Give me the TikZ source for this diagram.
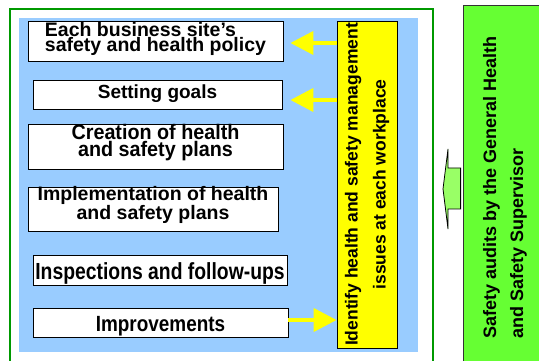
\documentclass[tikz,border=0pt]{standalone}
\usepackage{fontspec}
\setmainfont{Liberation Sans}
\newfontfamily\fontA{Liberation Sans}[FakeStretch=0.83]
\newfontfamily\fontB{Liberation Sans}[FakeStretch=0.86]
\newfontfamily\fontC{Liberation Sans}[FakeStretch=0.94]
\usetikzlibrary{arrows.meta,calc}
\definecolor{frameg}{RGB}{0,153,0}
\definecolor{skyb}{RGB}{153,204,255}
\definecolor{yelw}{RGB}{255,255,0}
\definecolor{limeg}{RGB}{102,255,51}
\definecolor{lgreen}{RGB}{153,255,102}
\tikzset{
  stepbox/.style={draw=black, line width=0.8pt, fill=white, inner sep=0pt, align=center},
  yarrow/.style={draw=yelw, line width=4pt, -{Triangle[length=23pt,width=23pt]}},
}
\begin{document}
\begin{tikzpicture}[x=1pt,y=1pt]
\useasboundingbox (0,0) rectangle (539,361);
\clip (0,0) rectangle (539,361);
\fill[white] (0,0) rectangle (539,361);
% outer frame
\draw[frameg, line width=2.5pt] (10,-10) -- (10,352) -- (433,352) -- (433,-10);
% blue area
\fill[skyb] (19,9) rectangle (418,343);
% steps
\node[stepbox, minimum width=255, minimum height=40, align=left, text height=25pt, text depth=3.6pt,
  font=\bfseries\fontsize{19.5}{15}\selectfont] (b1) at (155.5,320) {Each business site’s\\safety and health policy};
\node[stepbox, minimum width=249, minimum height=29, text height=7.6pt, text depth=0pt,
  font=\bfseries\fontsize{19}{15}\selectfont] (b2) at (157.5,266.5) {Setting goals};
\node[stepbox, minimum width=255, minimum height=45, text height=24pt, text depth=4.4pt,
  font=\fontC\bfseries\fontsize{21}{14.3}\selectfont] (b3) at (155.5,214.5) {Creation of health\\and safety plans};
\node[stepbox, minimum width=250, minimum height=44, text height=26pt, text depth=4pt,
  font=\bfseries\fontsize{19.5}{14.3}\selectfont] (b4) at (153,152) {Implementation of health\\and safety plans};
\node[stepbox, minimum width=254, minimum height=30, text height=20pt, text depth=0pt,
  font=\fontA\bfseries\fontsize{23.3}{15}\selectfont] (b5) at (160,91) {Inspections and follow-ups};
\node[stepbox, minimum width=255, minimum height=29, text height=19pt, text depth=0pt,
  font=\fontB\bfseries\fontsize{22}{15}\selectfont] (b6) at (160.5,38.5) {Improvements};
% yellow box
\node[draw=black, line width=0.8pt, fill=yelw, rotate=90, minimum width=327, minimum height=60,
  inner sep=0pt, align=center, font=\bfseries\fontsize{17.5}{28}\selectfont] (yb) at (367,176.5)
  {Identify health and safety management\\issues at each workplace};
% green audit box
\node[draw=black!80, line width=0.8pt, fill=limeg, rotate=90, minimum width=365, minimum height=84,
  inner sep=0pt, align=left, font=\bfseries\fontsize{18}{27}\selectfont] (gb) at (505,173.5)
  {Safety audits by the General Health\\and Safety Supervisor};
% arrows
\draw[yarrow, shorten >=7pt] ([yshift=-2pt]b1.east -| yb.north) -- ([yshift=-2pt]b1.east);
\draw[yarrow, shorten >=8pt] ([yshift=-5.5pt]b2.east -| yb.north) -- ([yshift=-5.5pt]b2.east);
\draw[yarrow] ([yshift=2.5pt]b6.east) -- ([yshift=2.5pt]b6.east -| yb.north);
% block arrow from audit box
\draw[black, line width=0.8pt, fill=lgreen]
  ($(gb.north |- 0,193)+(-2,0)$) -- (448,193) -- (448,212) -- (443,172) -- (448,132) -- (448,152)
  -- ($(gb.north |- 0,152)+(-2,0)$) -- cycle;
\end{tikzpicture}
\end{document}
